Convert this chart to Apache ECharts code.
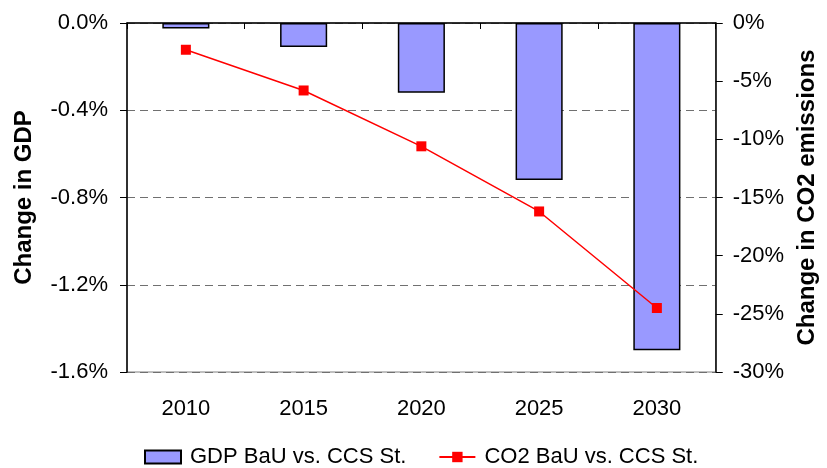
<!DOCTYPE html>
<html>
<head>
<meta charset="utf-8">
<script src="https://cdn.jsdelivr.net/npm/echarts@6/dist/echarts.min.js"></script>
<style>
  html, body { margin: 0; padding: 0; background: #fff; }
  #chart { width: 827px; height: 468px; }
</style>
</head>
<body>
<div id="chart"></div>
<script>
// Years on the category axis
const years = ['2010', '2015', '2020', '2025', '2030'];
// GDP change, BaU vs. CCS Standard (percent)
const gdpChange = [-0.025, -0.11, -0.32, -0.72, -1.50];
// CO2 emissions change, BaU vs. CCS Standard (percent)
const co2Change = [-2.3, -5.8, -10.6, -16.2, -24.5];
// Legend names
const gdpName = 'GDP BaU vs. CCS St.';
const co2Name = 'CO2 BaU vs. CCS St.';
// Axis titles
const leftTitle = 'Change in GDP';
const rightTitle = 'Change in CO2 emissions';

const FONT = '"Liberation Sans", Arial, sans-serif';
const chart = echarts.init(document.getElementById('chart'), null, { renderer: 'canvas' });

chart.setOption({
  animation: false,
  backgroundColor: '#ffffff',
  textStyle: { fontFamily: FONT },
  grid: {
    left: 127, right: 106, top: 23, bottom: 96,
    show: true, borderColor: '#808080', borderWidth: 1, backgroundColor: 'transparent'
  },
  legend: {
    left: 139, top: 441,
    itemWidth: 36, itemHeight: 13, itemGap: 32,
    textStyle: { fontFamily: FONT, fontSize: 22, color: '#000', padding: [0, 0, 0, 4] },
    data: [
      { name: gdpName, icon: 'rect' },
      { name: co2Name }
    ]
  },
  xAxis: [
    {
      type: 'category', data: years, position: 'bottom',
      axisLine: { show: false, onZero: false }, axisTick: { show: false },
      axisLabel: { fontFamily: FONT, fontSize: 22, color: '#000', margin: 26 }
    },
    {
      type: 'category', data: years, position: 'top',
      axisLine: { show: true, onZero: false, lineStyle: { color: '#000', width: 1.5 } },
      axisTick: { show: true, inside: true, length: 6, lineStyle: { color: '#000', width: 1 } },
      axisLabel: { show: false }
    }
  ],
  yAxis: [
    {
      type: 'value', min: -1.6, max: 0, interval: 0.4, position: 'left',
      name: leftTitle, nameLocation: 'middle', nameRotate: 90, nameGap: 91,
      nameTextStyle: { fontFamily: FONT, fontSize: 24, fontWeight: 'bold', color: '#000' },
      axisLine: { show: true, lineStyle: { color: '#000', width: 1.5 } },
      axisTick: { show: true, length: 7, lineStyle: { color: '#000' } },
      axisLabel: {
        fontFamily: FONT, fontSize: 22, color: '#000', margin: 19,
        formatter: v => v.toFixed(1) + '%'
      },
      splitLine: { show: true, lineStyle: { color: '#707070', type: [8, 5], width: 1.2 } }
    },
    {
      type: 'value', min: -30, max: 0, interval: 5, position: 'right',
      name: rightTitle, nameLocation: 'middle', nameRotate: 90, nameGap: 69,
      nameTextStyle: { fontFamily: FONT, fontSize: 24, fontWeight: 'bold', color: '#000' },
      axisLine: { show: true, lineStyle: { color: '#000', width: 1.5 } },
      axisTick: { show: true, length: 7, lineStyle: { color: '#000' } },
      axisLabel: {
        fontFamily: FONT, fontSize: 22, color: '#000', margin: 17,
        formatter: v => Math.round(v) + '%'
      },
      splitLine: { show: false }
    }
  ],
  series: [
    {
      name: gdpName, type: 'bar', xAxisIndex: 0, yAxisIndex: 0,
      data: gdpChange, barWidth: '40%',
      itemStyle: { color: '#9999FF', borderColor: '#000', borderWidth: 1.5 }
    },
    {
      name: co2Name, type: 'line', xAxisIndex: 0, yAxisIndex: 1,
      data: co2Change,
      symbol: 'rect', symbolSize: 10,
      lineStyle: { color: '#FF0000', width: 1.5 },
      itemStyle: { color: '#FF0000' }
    }
  ]
});
</script>
</body>
</html>
